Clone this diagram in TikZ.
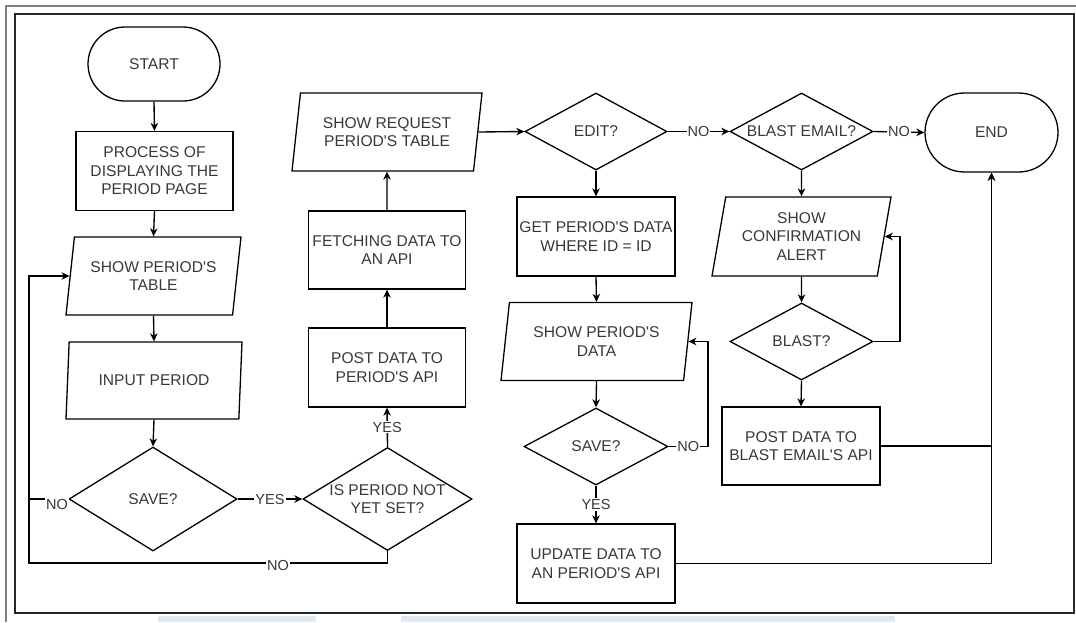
\documentclass[tikz,border=0pt]{standalone}
\usepackage{fontspec}
\newfontfamily\dfont{Liberation Sans}
\usetikzlibrary{shapes.geometric,shapes.misc,arrows.meta}
\definecolor{wmark}{RGB}{224,233,242}
\begin{document}
\begin{tikzpicture}[x=1pt,y=-1pt,
  line/.style={draw=black, line width=1.35pt},
  arr/.style={line, -{Stealth[length=8pt,width=7.5pt,inset=2.5pt]}},
  base/.style={draw=black, line width=1.3pt, align=center, inner sep=0pt,
    font=\dfont\fontsize{15.6}{18.5}\selectfont, text=black!78},
  proc/.style={base, rectangle, minimum width=157pt, minimum height=79pt},
  io/.style={base, trapezium, trapezium left angle=74, trapezium right angle=106,
    trapezium stretches body=true, minimum height=78pt},
  dec/.style={base, diamond},
  term/.style={base, rounded rectangle},
  dlab/.style={align=center, inner sep=0pt, font=\dfont\fontsize{15.6}{18.5}\selectfont, text=black!78},
  lab/.style={fill=white, inner sep=1pt, font=\dfont\fontsize{14.5}{16}\selectfont, text=black!78}]
\useasboundingbox (0,0) rectangle (1076,622);
% frames and watermark
\fill[wmark] (158,616) rectangle (316,622);
\fill[wmark] (401,616) rectangle (895,622);
\draw[draw=black!50, line width=2pt] (6,622) -- (6,6) -- (1076,6);
\draw[draw=black!85, line width=1.5pt] (15,14) rectangle (1074,613);
% nodes
\node[term, minimum width=132pt, minimum height=74pt] (start) at (154,64) {START};
\node[proc] (proc) at (154.5,171) {PROCESS OF\\DISPLAYING THE\\PERIOD PAGE};
\node[io, minimum width=175pt] (t1) at (153.5,276) {SHOW PERIOD'S\\TABLE};
\node[io, minimum width=176pt, minimum height=77pt] (in1) at (154,380.5) {INPUT PERIOD};
\node[dec, minimum width=168pt, minimum height=104pt, label={[dlab]center:SAVE?}] (save1) at (153,499) {};
\node[dec, minimum width=169pt, minimum height=103pt, label={[dlab]center:IS PERIOD NOT\\YET SET?}] (isp) at (387.5,499) {};
\node[proc] (post1) at (387,367.5) {POST DATA TO\\PERIOD'S API};
\node[proc, minimum height=78pt] (fetch) at (387,250) {FETCHING DATA TO\\AN API};
\node[io, minimum width=190pt] (req) at (387,132) {SHOW REQUEST\\PERIOD'S TABLE};
\node[dec, minimum width=142pt, minimum height=77pt, label={[dlab]center:EDIT?}] (edit) at (596,131.5) {};
\node[proc, minimum width=158pt] (get) at (596,236.5) {GET PERIOD'S DATA\\WHERE ID = ID};
\node[io, minimum width=191pt] (sdata) at (596.5,341.5) {SHOW PERIOD'S\\DATA};
\node[dec, minimum width=144pt, minimum height=77pt, label={[dlab]center:SAVE?}] (save2) at (596,446.5) {};
\node[proc, minimum width=158pt] (upd) at (596,563.5) {UPDATE DATA TO\\AN PERIOD'S API};
\node[dec, minimum width=143pt, minimum height=77pt, label={[dlab]center:BLAST EMAIL?}] (blast) at (801.5,131.5) {};
\node[term, minimum width=133pt, minimum height=79pt] (end) at (991.5,132.5) {END};
\node[io, minimum width=179pt, minimum height=79pt] (conf) at (801.5,236.5) {SHOW\\CONFIRMATION\\ALERT};
\node[dec, minimum width=143pt, minimum height=77pt, label={[dlab]center:BLAST?}] (blast2) at (801.5,341.5) {};
\node[proc, minimum width=158pt, minimum height=78pt] (postb) at (801,446) {POST DATA TO\\BLAST EMAIL'S API};
% helper coordinates
\coordinate (jn) at (29,499);
\coordinate (lb) at (29,563);
\coordinate (c1) at (708,446.5);
\coordinate (c2) at (900,341.5);
% connectors
\draw[arr] (start.south) -- (proc.north);
\draw[arr] (proc.south) -- (t1.north);
\draw[arr] (t1.south) -- (in1.north);
\draw[arr] (in1.south) -- (save1.north);
\draw[line] (save1.west) -- (jn);
\node[lab] (no1) at (57,504) {NO};
\draw[arr] (isp.south) |- (lb) |- (t1.west);
\node[lab] (no2) at (278,565) {NO};
\draw[arr] (save1.east) -- node[lab] (yes1) {YES} (isp.west);
\draw[arr] (isp.north) -- node[lab] (yes2) {YES} (post1.south);
\draw[arr] (post1.north) -- (fetch.south);
\draw[arr] (fetch.north) -- (req.south);
\draw[arr] (req.east) -- (edit.west);
\draw[arr] (edit.east) -- node[lab] (no3) {NO} (blast.west);
\draw[arr] (blast.east) -- node[lab] (no4) {NO} (end.west);
\draw[arr] (edit.south) -- (get.north);
\draw[arr] (get.south) -- (sdata.north);
\draw[arr] (sdata.south) -- (save2.north);
\draw[arr] (save2.east) -- node[lab] (no5) {NO} (c1) |- (sdata.east);
\draw[arr] (save2.south) -- node[lab] (yes3) {YES} (upd.north);
\draw[arr] (blast.south) -- (conf.north);
\draw[arr] (conf.south) -- (blast2.north);
\draw[arr] (blast2.east) -- (c2) |- (conf.east);
\draw[arr] (blast2.south) -- (postb.north);
\draw[arr] (upd.east) -| (end.south);
\draw[arr] (postb.east) -| (end.south);
\end{tikzpicture}
\end{document}
